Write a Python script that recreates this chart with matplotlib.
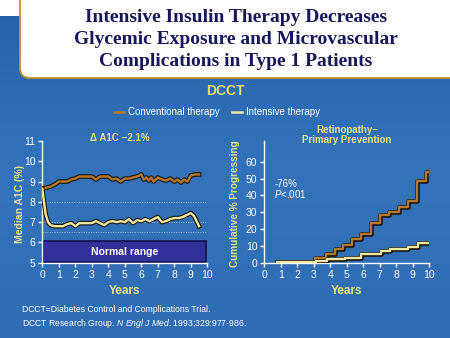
import numpy as np
import matplotlib
matplotlib.use("Agg")
import matplotlib.pyplot as plt
import matplotlib.patheffects as pe
from matplotlib.patches import Rectangle, FancyBboxPatch
from matplotlib.lines import Line2D

# ---- data ----
conv_years = [0, 0.25, 0.5, 0.75, 1.0, 1.25, 1.5, 1.75, 2.0, 2.25, 2.5, 2.75, 3.0, 3.25,
              3.5, 3.75, 4.0, 4.25, 4.5, 4.75, 5.0, 5.25, 5.5, 5.75, 6.0, 6.15, 6.3, 6.45,
              6.6, 6.75, 7.0, 7.25, 7.5, 7.75, 8.0, 8.2, 8.4, 8.6, 8.8, 9.0, 9.25, 9.5]
conv_a1c = [8.65, 8.7, 8.75, 8.85, 9.0, 9.0, 9.0, 9.1, 9.15, 9.25, 9.25, 9.25, 9.25, 9.1,
            9.25, 9.25, 9.25, 9.1, 9.15, 9.0, 9.15, 9.15, 9.2, 9.25, 9.35, 9.1, 9.2, 9.05,
            9.2, 9.0, 9.2, 9.1, 9.05, 9.15, 9.0, 9.1, 8.95, 9.1, 9.0, 9.3, 9.35, 9.35]

int_years = [0, 0.1, 0.2, 0.35, 0.5, 0.75, 1.0, 1.25, 1.5, 1.75, 2.0, 2.25, 2.5, 2.75,
             3.0, 3.25, 3.5, 3.75, 4.0, 4.25, 4.5, 4.75, 5.0, 5.25, 5.5, 5.75, 6.0, 6.25,
             6.5, 6.75, 7.0, 7.25, 7.5, 7.75, 8.0, 8.25, 8.5, 8.75, 9.0, 9.2, 9.5]
int_a1c = [8.65, 8.0, 7.4, 7.0, 6.85, 6.8, 6.8, 6.8, 6.9, 6.95, 6.8, 6.95, 6.95, 6.95,
           6.95, 7.05, 6.95, 6.85, 7.0, 7.05, 7.0, 7.05, 7.0, 7.15, 6.95, 7.1, 7.05, 7.15,
           7.05, 7.15, 7.25, 7.0, 7.05, 7.15, 7.2, 7.2, 7.25, 7.35, 7.45, 7.3, 6.8]

ret_conv_x = [0.75, 3.1, 3.75, 4.3, 4.8, 5.35, 5.9, 6.5, 7.05, 7.6, 8.15, 8.7, 9.25, 9.8, 10.15]
ret_conv_y = [0.5, 2.6, 5.0, 8.0, 10.7, 14.0, 17.0, 23.5, 28.2, 30.0, 33.0, 36.8, 48.5, 54.0, 54.0]
ret_int_x = [0.75, 3.15, 3.8, 4.9, 5.9, 7.1, 7.65, 8.75, 9.35, 10.15]
ret_int_y = [0.3, 1.3, 2.2, 3.0, 5.0, 7.0, 8.0, 9.3, 12.0, 12.0]

normal_range = (5.05, 6.05)
ref_levels = [8, 7, 6.5]

title_lines = ["Intensive Insulin Therapy Decreases",
               "Glycemic Exposure and Microvascular",
               "Complications in Type 1 Patients"]

# ---- style ----
W, H = 450, 338
BLUE = "#2d6bb2"
NAVY = "#16165c"
YEL = "#ece48a"
CONV_C = "#b5782f"
INT_C = "#eeeaa4"
SANS = ["Liberation Sans", "DejaVu Sans"]


def fx(px):
    return px / W


def fy(py):
    return 1 - py / H


plt.rcParams["font.family"] = SANS
plt.rcParams["mathtext.fontset"] = "custom"
plt.rcParams["mathtext.rm"] = "Liberation Sans"
plt.rcParams["mathtext.it"] = "Liberation Sans:italic"

fig = plt.figure(figsize=(4.5, 3.38), dpi=100)
fig.patch.set_facecolor(BLUE)

# background layer in pixel coords
bg = fig.add_axes([0, 0, 1, 1])
bg.set_zorder(-1)
bg.axis("off")
grad = np.linspace(0, 1, 100).reshape(-1, 1)
cmap = matplotlib.colors.LinearSegmentedColormap.from_list("bgc", ["#2661a8", "#3473ba", "#2f6cb4"])
bg.imshow(grad, extent=[0, W, H, 0], aspect="auto", cmap=cmap)
bg.add_patch(Rectangle((0, 0), W, 16, color="white", lw=0))
bg.add_patch(FancyBboxPatch((20, -40), 470, 118, boxstyle="round,pad=0,rounding_size=10",
                            facecolor="white", edgecolor="#c8902a", lw=1.3))
bg.set_xlim(0, W)
bg.set_ylim(H, 0)

for i, line in enumerate(title_lines):
    fig.text(fx(236), fy(17 + 22.5 * i), line, ha="center", va="center",
             fontsize=14, fontweight="bold", color=NAVY, family="Liberation Serif")

fig.text(fx(225), fy(91), "DCCT", ha="center", va="center", fontsize=10,
         fontweight="bold", color="#f0e070")

stroke = [pe.Stroke(linewidth=3.3, foreground="#1c1408"), pe.Normal()]

# ---- left: median A1C ----
ax1 = fig.add_axes([fx(42.3), fy(262.7), fx(165), (262.7 - 141) / H])
ax1.patch.set_alpha(0)
ax1.set_xlim(0, 10)
ax1.set_ylim(5, 11)
for lv in ref_levels:
    ax1.axhline(lv, color="#c8d8f0", lw=0.7, ls=(0, (1, 1.5)), alpha=0.8)
ax1.add_patch(FancyBboxPatch((0.05, normal_range[0]), 9.9, normal_range[1] - normal_range[0],
                             boxstyle="square,pad=0", facecolor="#34309a",
                             edgecolor="#121250", lw=1.2, zorder=2))
ax1.text(5, sum(normal_range) / 2, "Normal range", ha="center", va="center",
         fontsize=7.5, fontweight="bold", color="white", zorder=3)
ax1.plot(conv_years, conv_a1c, color=CONV_C, lw=1.7, path_effects=stroke, zorder=4)
ax1.plot(int_years, int_a1c, color=INT_C, lw=1.7, path_effects=stroke, zorder=4)
ax1.text(4.7, 11.13, "\u0394 A1C \u22122.1%", ha="center", va="center", fontsize=7,
         fontweight="bold", color=YEL)
ax1.set_xticks(range(0, 11))
ax1.set_yticks(range(5, 12))

# ---- right: retinopathy ----
ax2 = fig.add_axes([fx(264.3), fy(262.7), fx(164.7), (262.7 - 141) / H])
ax2.patch.set_alpha(0)
ax2.set_xlim(0, 10)
ax2.set_ylim(0, 72.3)
ax2.step(ret_conv_x, ret_conv_y, where="post", color=CONV_C, lw=1.7, path_effects=stroke, zorder=4)
ax2.step(ret_int_x, ret_int_y, where="post", color=INT_C, lw=1.7, path_effects=stroke, zorder=4)
ax2.set_xticks(range(0, 11))
ax2.set_yticks(range(0, 61, 10))
ax2.text(0.6, 47, "-76%", ha="left", va="center", fontsize=7, color="white")
ax2.text(0.6, 41, "$P$<.001", ha="left", va="center", fontsize=7, color="white")

for ax in (ax1, ax2):
    for s in ("top", "right"):
        ax.spines[s].set_visible(False)
    for s in ("left", "bottom"):
        ax.spines[s].set_color("white")
        ax.spines[s].set_linewidth(1)
    ax.tick_params(colors="white", labelcolor="white", labelsize=7.5, length=3, width=1, pad=2)

fig.text(fx(347), fy(135), "Retinopathy\u2013\nPrimary Prevention", ha="center", va="center",
         fontsize=7, fontweight="bold", color=YEL, linespacing=1.05)

# axis titles
fig.text(fx(124.5), fy(290.5), "Years", ha="center", va="center", fontsize=8.5,
         fontweight="bold", color=YEL)
fig.text(fx(346.5), fy(290.5), "Years", ha="center", va="center", fontsize=8.5,
         fontweight="bold", color=YEL)
fig.text(fx(20), fy(204), "Median A1C (%)", ha="center", va="center", rotation=90,
         fontsize=7.5, fontweight="bold", color=YEL)
fig.text(fx(235), fy(204), "Cumulative % Progressing", ha="center", va="center",
         rotation=90, fontsize=7.2, fontweight="bold", color=YEL)

# legend
handles = [Line2D([], [], color=CONV_C, lw=1.8), Line2D([], [], color=INT_C, lw=1.8)]
fig.legend(handles, ["Conventional therapy", "Intensive therapy"], loc="center",
           bbox_to_anchor=(fx(217), fy(112)), ncol=2, frameon=False, fontsize=7,
           labelcolor="white", handlelength=1.0, handletextpad=0.4, columnspacing=1.3)

# footnote
fig.text(fx(22), fy(309), "DCCT=Diabetes Control and Complications Trial.", ha="left",
         va="center", fontsize=6.2, color="white")
fig.text(fx(22), fy(323), "DCCT Research Group. $\\it{N\\ Engl\\ J\\ Med}$. 1993;329:977-986.",
         ha="left", va="center", fontsize=6.2, color="white")

fig.savefig("out.png", dpi=100, facecolor=fig.get_facecolor())
